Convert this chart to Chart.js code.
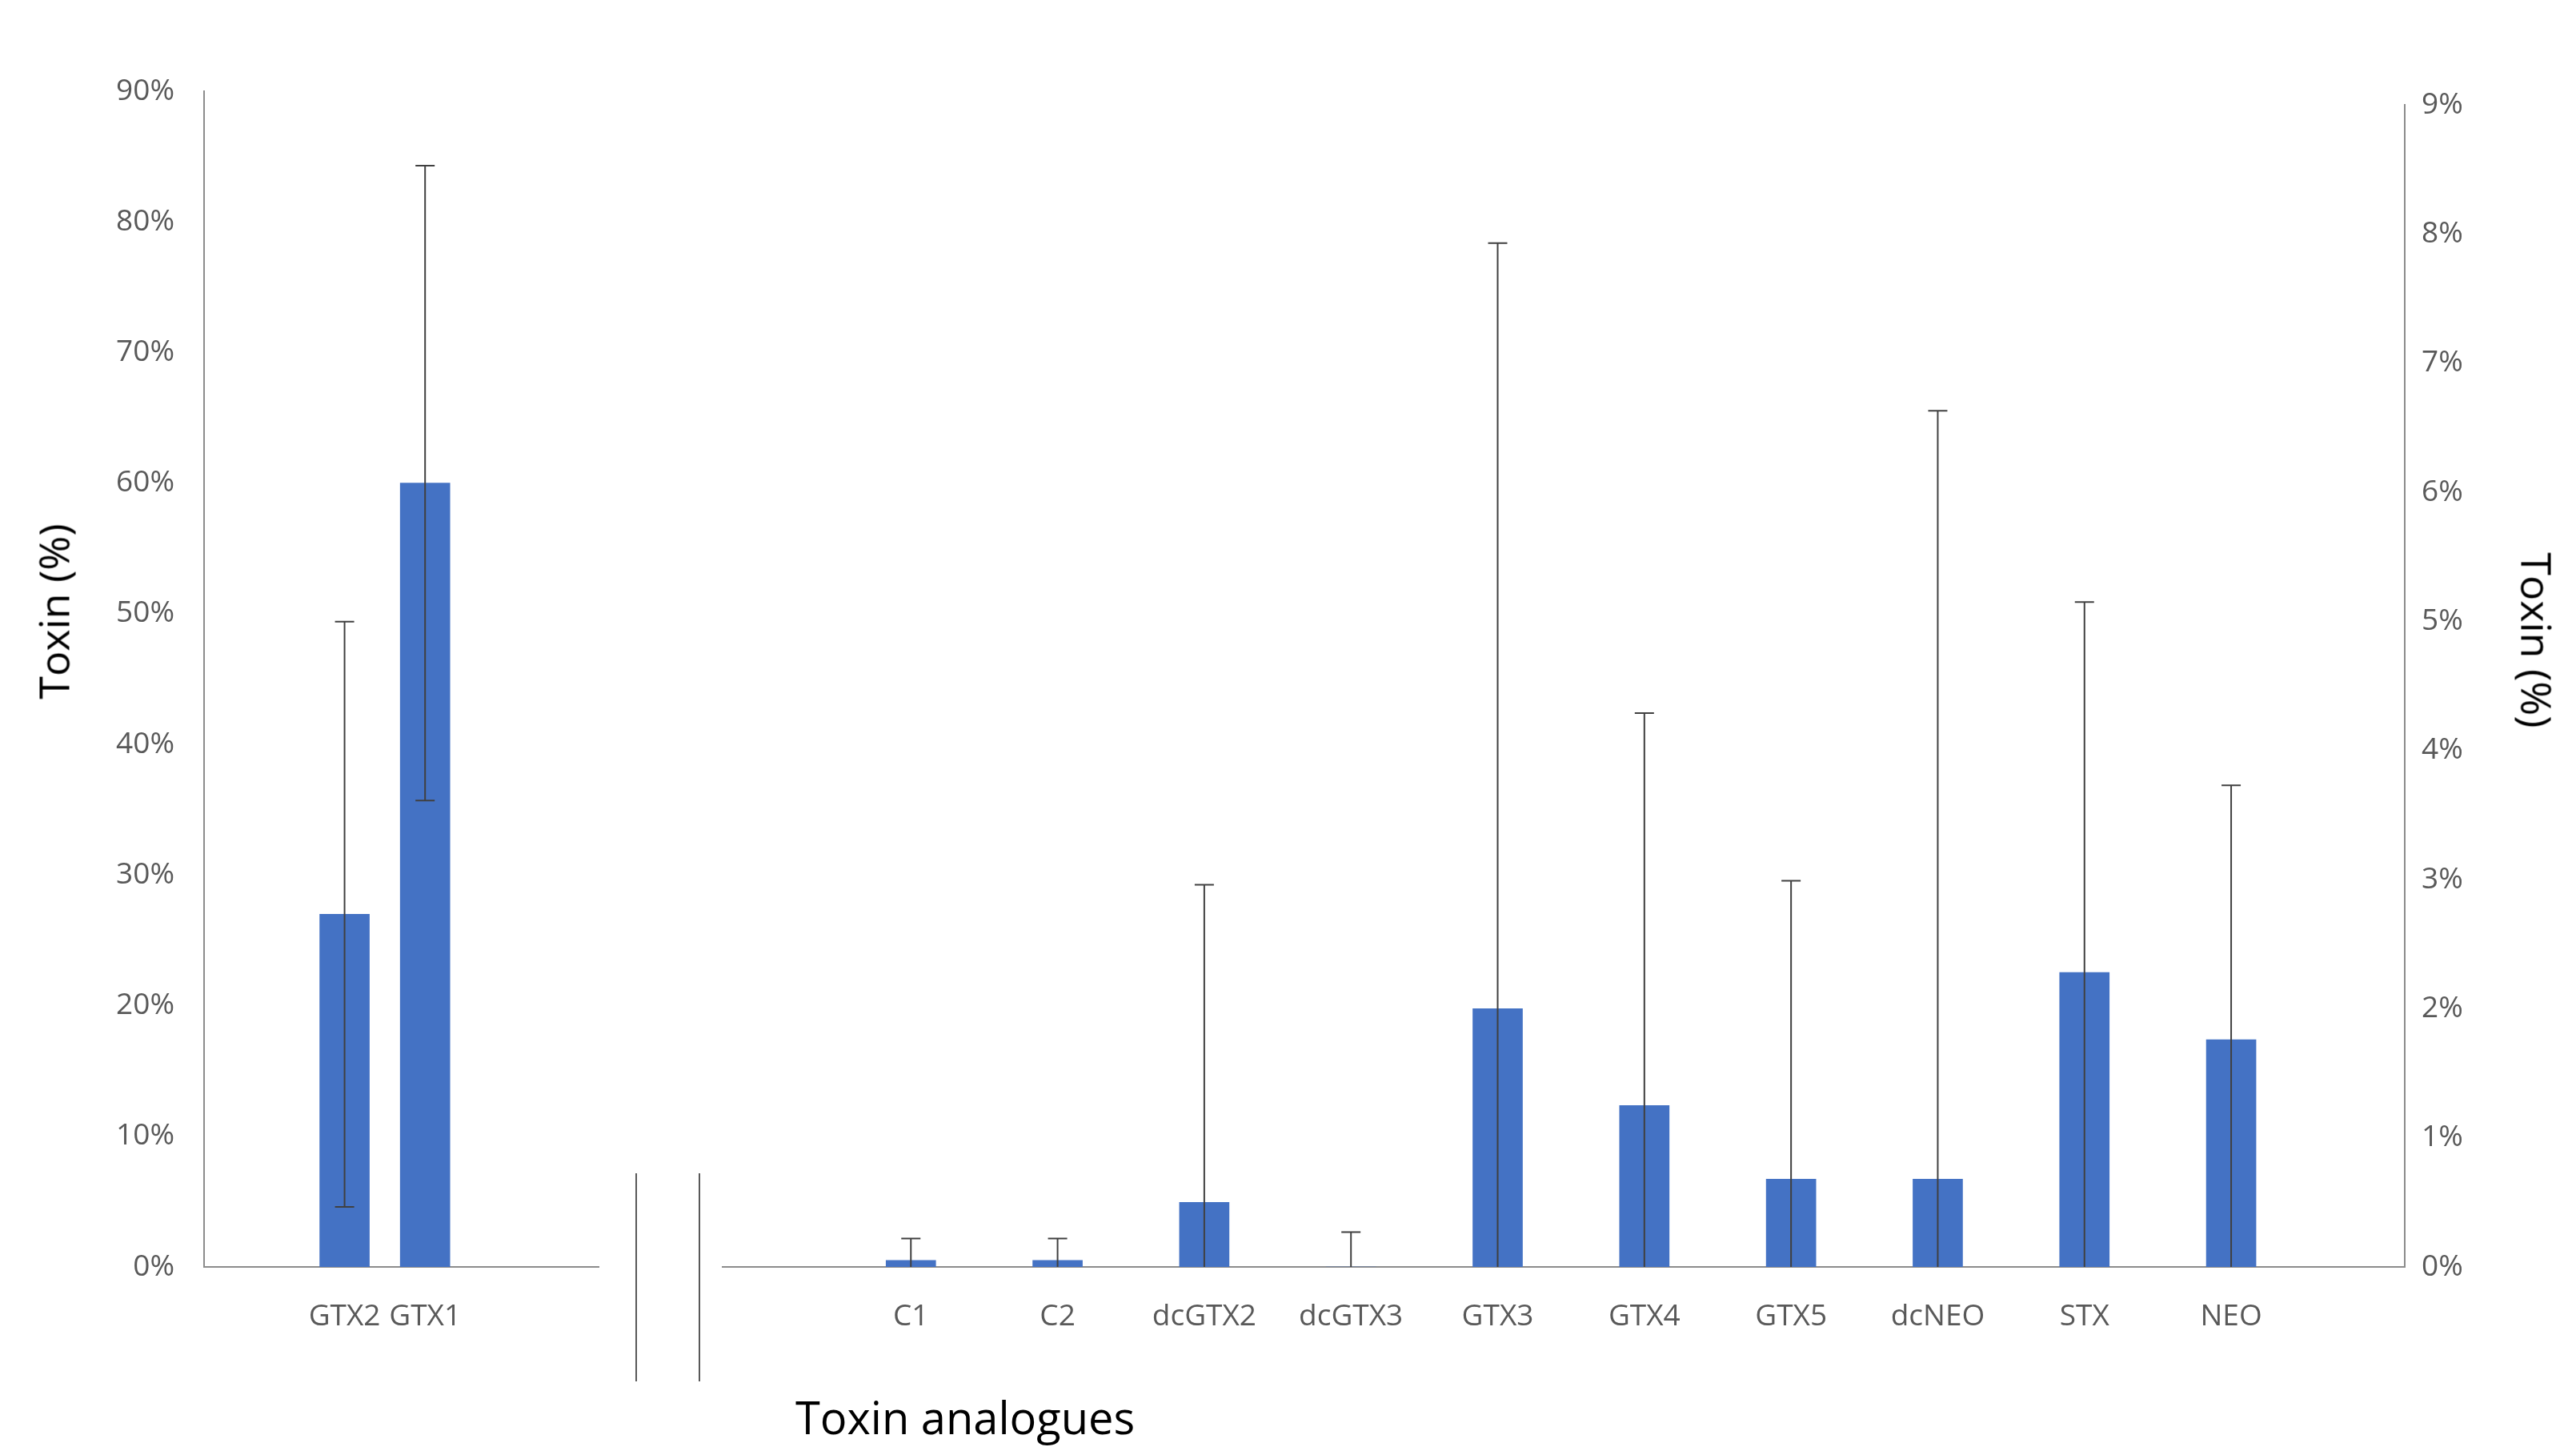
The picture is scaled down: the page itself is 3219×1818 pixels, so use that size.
<!DOCTYPE html>
<html>
<head>
<meta charset="utf-8">
<script src="https://cdn.jsdelivr.net/npm/chart.js@4"></script>
<style>
  body { margin: 0; background: #fff; width: 3219px; height: 1818px; position: relative; overflow: hidden; font-family: "Open Sans", sans-serif; }
  .box { position: absolute; top: 0; height: 1818px; }
  .lbl { position: absolute; color: #000; white-space: nowrap; }
  .brk { position: absolute; width: 2px; background: #595959; top: 1466px; height: 260px; }
</style>
</head>
<body>
<div class="box" style="left:0;width:770px"><canvas id="leftChart"></canvas></div>
<div class="box" style="left:880px;width:2339px"><canvas id="rightChart"></canvas></div>
<div class="brk" style="left:794px"></div>
<div class="brk" style="left:873px"></div>
<div class="lbl" style="left:66px;top:764px;font-size:52px;transform:translate(-50%,-50%) rotate(-90deg)">Toxin (%)</div>
<div class="lbl" style="left:3171px;top:800px;font-size:52px;transform:translate(-50%,-50%) rotate(90deg)">Toxin (%)</div>
<div class="lbl" style="left:994px;top:1732px;font-size:56px">Toxin analogues</div>
<script>
// major analogues (left axis, 0-90%)
const majorLabels = ['GTX2', 'GTX1'];
const majorValues = [27, 60];
const majorErrors = [22.4, 24.3];

// minor analogues (right axis, 0-9%)
const minorLabels = ['C1', 'C2', 'dcGTX2', 'dcGTX3', 'GTX3', 'GTX4', 'GTX5', 'dcNEO', 'STX', 'NEO'];
const minorValues = [0.05, 0.05, 0.5, 0, 2.0, 1.25, 0.68, 0.68, 2.28, 1.76];
const minorErrors = [0.17, 0.17, 2.46, 0.27, 5.93, 3.04, 2.31, 5.95, 2.87, 1.97];

const barBlue = '#4472C4';
const tickGray = '#595959';

const errorBars = {
    id: 'errorBars',
    afterDatasetsDraw(chart) {
        const ctx = chart.ctx;
        const ds = chart.data.datasets[0];
        const yScale = chart.scales[ds.yAxisID];
        const meta = chart.getDatasetMeta(0);
        ctx.save();
        ctx.strokeStyle = '#404040';
        ctx.lineWidth = 2;
        meta.data.forEach((bar, i) => {
            const v = ds.data[i].y, e = ds.errors[i];
            const top = yScale.getPixelForValue(v + e);
            const low = Math.max(0, v - e);
            const bot = yScale.getPixelForValue(low);
            ctx.beginPath();
            ctx.moveTo(bar.x, top); ctx.lineTo(bar.x, bot);
            ctx.moveTo(bar.x - 12, top); ctx.lineTo(bar.x + 12, top);
            if (low > 0) { ctx.moveTo(bar.x - 12, bot); ctx.lineTo(bar.x + 12, bot); }
            ctx.stroke();
        });
        ctx.restore();
    }
};

function xAxis(labels, min, max) {
    return {
        type: 'linear', min: min, max: max,
        afterBuildTicks: s => { s.ticks = labels.map((l, i) => ({ value: i })); },
        afterFit: s => { s.height = 235; },
        ticks: { callback: v => labels[v], color: tickGray, font: { size: 37, family: 'Open Sans' }, padding: 40, maxRotation: 0, autoSkip: false },
        grid: { display: false, drawTicks: false },
        border: { color: '#8c8c8c', width: 2 }
    };
}

function yAxis(max, step, pos, width) {
    return {
        position: pos, min: 0, max: max,
        afterFit: s => { s.width = width; },
        ticks: { stepSize: step, callback: v => v + '%', color: tickGray, font: { size: 37, family: 'Open Sans' }, padding: pos === 'left' ? 37 : 21 },
        grid: { display: false, drawTicks: false },
        border: { color: '#8c8c8c', width: 2 }
    };
}

const common = {
    responsive: true, maintainAspectRatio: false, animation: false,
    plugins: { legend: { display: false }, tooltip: { enabled: false } }
};

new Chart(document.getElementById('leftChart'), {
    type: 'bar',
    data: { datasets: [{ data: majorValues.map((v, i) => ({ x: i, y: v })), errors: majorErrors, backgroundColor: barBlue, barThickness: 62, yAxisID: 'y' }] },
    options: Object.assign({}, common, {
        layout: { padding: { top: 114, right: 22, left: 0, bottom: 0 } },
        scales: { x: xAxis(majorLabels, -0.52, 1.93), y: yAxis(90, 10, 'left', 255) }
    }),
    plugins: [errorBars]
});

new Chart(document.getElementById('rightChart'), {
    type: 'bar',
    data: { datasets: [{ data: minorValues.map((v, i) => ({ x: i, y: v })), errors: minorErrors, backgroundColor: barBlue, barThickness: 62, yAxisID: 'y' }] },
    options: Object.assign({}, common, {
        layout: { padding: { top: 131, right: 0, left: 23, bottom: 0 } },
        scales: { x: xAxis(minorLabels, -0.71, 9.61), y: yAxis(9, 1, 'right', 214) }
    }),
    plugins: [errorBars]
});
</script>
</body>
</html>
